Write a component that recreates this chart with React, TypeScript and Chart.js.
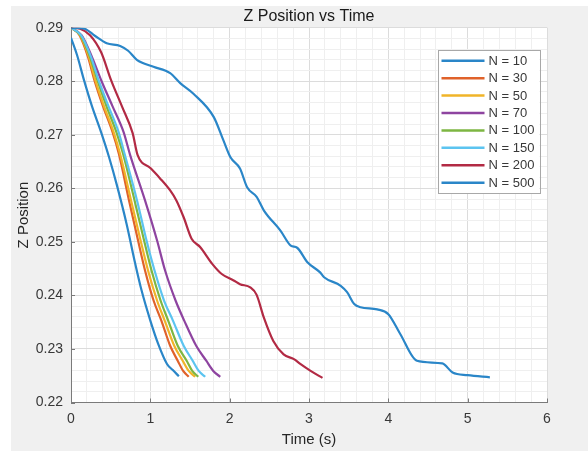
import React, { useEffect, useRef } from 'react';
import { Chart, registerables } from 'chart.js';

Chart.register(...registerables);

// ---------- data ----------
const seriesLabels = ['N = 10', 'N = 30', 'N = 50', 'N = 70', 'N = 100', 'N = 150', 'N = 200', 'N = 500'];
const seriesColors = ['#2a86c8', '#e0622a', '#f0b429', '#8e44a0', '#7db642', '#5cc4f0', '#b22a44', '#2a86c8'];

const tN10 = [0, 0.076, 0.164, 0.265, 0.379, 0.48, 0.58, 0.70, 0.81, 0.89, 1.00, 1.10, 1.21, 1.28, 1.36];
const zN10 = [0.2881, 0.2849, 0.2802, 0.2753, 0.2705, 0.2658, 0.2605, 0.2534, 0.2459, 0.2409, 0.2353, 0.2309, 0.2272, 0.2261, 0.2249];

const tN30 = [0, 0.107, 0.215, 0.297, 0.404, 0.524, 0.604, 0.732, 0.846, 0.934, 1.042, 1.139, 1.25, 1.345, 1.414, 1.484];
const zN30 = [0.29, 0.2886, 0.2845, 0.2801, 0.2753, 0.2705, 0.2664, 0.2577, 0.2502, 0.2446, 0.239, 0.2353, 0.2306, 0.2278, 0.2259, 0.2248];

const tN50 = [0, 0.114, 0.227, 0.309, 0.417, 0.537, 0.619, 0.758, 0.878, 0.972, 1.086, 1.181, 1.301, 1.408, 1.484, 1.566];
const zN50 = [0.29, 0.2886, 0.2845, 0.2801, 0.2753, 0.2705, 0.2664, 0.2577, 0.2502, 0.2446, 0.239, 0.2353, 0.2306, 0.2278, 0.2259, 0.2248];

const tN70 = [0, 0.133, 0.265, 0.383, 0.524, 0.663, 0.742, 0.934, 1.086, 1.187, 1.319, 1.427, 1.578, 1.705, 1.793, 1.881];
const zN70 = [0.29, 0.2886, 0.2845, 0.2801, 0.2753, 0.2705, 0.2664, 0.2577, 0.2502, 0.2446, 0.239, 0.2353, 0.2306, 0.2278, 0.2259, 0.2248];

const tN100 = [0, 0.12, 0.24, 0.335, 0.448, 0.572, 0.657, 0.802, 0.922, 1.016, 1.13, 1.225, 1.345, 1.458, 1.528, 1.604];
const zN100 = [0.29, 0.2886, 0.2845, 0.2801, 0.2753, 0.2705, 0.2664, 0.2577, 0.2502, 0.2446, 0.239, 0.2353, 0.2306, 0.2278, 0.2259, 0.2248];

const tN150 = [0, 0.126, 0.253, 0.35, 0.473, 0.6, 0.676, 0.833, 0.953, 1.054, 1.174, 1.285, 1.42, 1.534, 1.61, 1.692];
const zN150 = [0.29, 0.2886, 0.2845, 0.2801, 0.2753, 0.2705, 0.2664, 0.2577, 0.2502, 0.2446, 0.239, 0.2353, 0.2306, 0.2278, 0.2259, 0.2248];

const tN200 = [0, 0.114, 0.24, 0.38, 0.505, 0.645, 0.777, 0.84, 1.0, 1.12, 1.25, 1.33, 1.42, 1.52, 1.63, 1.78, 1.9, 2.05, 2.13, 2.26, 2.34, 2.43, 2.55, 2.68, 2.81, 2.89, 3.02, 3.17];
const zN200 = [0.29, 0.2898, 0.2886, 0.2854, 0.2802, 0.2752, 0.2703, 0.2662, 0.2638, 0.2619, 0.2596, 0.2577, 0.2546, 0.2506, 0.249, 0.2459, 0.244, 0.2428, 0.2421, 0.2415, 0.2401, 0.2359, 0.2315, 0.229, 0.2281, 0.2272, 0.2259, 0.2246];

const tN500 = [0, 0.17, 0.3, 0.45, 0.62, 0.72, 0.83, 1.04, 1.25, 1.38, 1.54, 1.8, 1.92, 2.01, 2.13, 2.22, 2.34, 2.43, 2.64, 2.77, 2.85, 2.98, 3.14, 3.19, 3.4, 3.48, 3.57, 3.65, 3.86, 4.0, 4.15, 4.36, 4.68, 4.81, 5.0, 5.28];
const zN500 = [0.29, 0.2898, 0.2885, 0.2871, 0.2866, 0.2857, 0.284, 0.2827, 0.2815, 0.2796, 0.2777, 0.2733, 0.269, 0.2658, 0.2637, 0.2602, 0.2584, 0.2559, 0.2521, 0.2493, 0.2489, 0.2462, 0.2443, 0.2434, 0.2418, 0.2406, 0.2384, 0.2378, 0.2374, 0.2365, 0.2328, 0.2278, 0.2273, 0.2256, 0.2251, 0.2247];

const seriesTimes = [tN10, tN30, tN50, tN70, tN100, tN150, tN200, tN500];
const seriesZ = [zN10, zN30, zN50, zN70, zN100, zN150, zN200, zN500];

const xMajorTicks = [0, 1, 2, 3, 4, 5, 6];
const xTickLabels = ['0', '1', '2', '3', '4', '5', '6'];
const yMajorTicks = [0.22, 0.23, 0.24, 0.25, 0.26, 0.27, 0.28, 0.29];
const yTickLabels = ['0.22', '0.23', '0.24', '0.25', '0.26', '0.27', '0.28', '0.29'];

const titleText = 'Z Position vs Time';
const xTitle = 'Time (s)';
const yTitle = 'Z Position';

// ---------- styles ----------
const FONT = '"Liberation Sans", Arial, Helvetica, sans-serif';
const AXIS_COLOR = '#7a7a7a';
const MAJOR_GRID = '#dcdcdc';
const MINOR_GRID = '#efefef';
const TEXT_COLOR = '#383838';

const findMajor = (arr: number[], v: number) => arr.findIndex((m) => Math.abs(m - v) < 1e-7);

const bgPlugin = {
  id: 'bgPlugin',
  beforeDraw(chart: any) {
    const { ctx, chartArea, width, height } = chart;
    ctx.save();
    ctx.fillStyle = '#ffffff';
    ctx.fillRect(0, 0, width, height);
    ctx.fillStyle = '#f0f0f0';
    ctx.fillRect(11, 6, width - 11, height - 6);
    ctx.fillStyle = '#ffffff';
    ctx.fillRect(chartArea.left, chartArea.top, chartArea.right - chartArea.left, chartArea.bottom - chartArea.top);
    ctx.restore();
  },
};

const innerTickPlugin = {
  id: 'innerTicks',
  beforeDatasetsDraw(chart: any) {
    const { ctx, chartArea, scales } = chart;
    ctx.save();
    ctx.strokeStyle = AXIS_COLOR;
    ctx.lineWidth = 1;
    ctx.beginPath();
    xMajorTicks.forEach((v) => {
      const px = Math.round(scales.x.getPixelForValue(v)) + 0.5;
      ctx.moveTo(px, chartArea.bottom);
      ctx.lineTo(px, chartArea.bottom - 4);
    });
    yMajorTicks.forEach((v) => {
      const py = Math.round(scales.y.getPixelForValue(v)) + 0.5;
      ctx.moveTo(chartArea.left, py);
      ctx.lineTo(chartArea.left + 4, py);
    });
    ctx.stroke();
    ctx.restore();
  },
};

const boxLegendPlugin = {
  id: 'boxLegend',
  afterDatasetsDraw(chart: any) {
    const { ctx, chartArea } = chart;
    const right = chartArea.right - 7.5;
    const top = chartArea.top + 22.5;
    const w = 102;
    const h = 143;
    const left = right - w;
    ctx.save();
    ctx.fillStyle = '#ffffff';
    ctx.fillRect(left, top, w, h);
    ctx.strokeStyle = '#a8a8a8';
    ctx.lineWidth = 1;
    ctx.strokeRect(Math.round(left) + 0.5, Math.round(top) + 0.5, w, h);
    chart.data.datasets.forEach((ds: any, i: number) => {
      const y = top + 10.5 + i * 17.43;
      ctx.strokeStyle = ds.borderColor;
      ctx.lineWidth = 2.5;
      ctx.beginPath();
      ctx.moveTo(left + 4, y);
      ctx.lineTo(left + 47, y);
      ctx.stroke();
      ctx.fillStyle = TEXT_COLOR;
      ctx.font = `13px ${FONT}`;
      ctx.textAlign = 'left';
      ctx.textBaseline = 'middle';
      ctx.fillText(ds.label, left + 51, y + 0.5);
    });
    ctx.restore();
  },
};

export default function App() {
  const canvasRef = useRef<HTMLCanvasElement | null>(null);

  useEffect(() => {
    const canvas = canvasRef.current;
    if (!canvas) return;
    Chart.defaults.font.family = FONT;

    const datasets = seriesLabels.map((label, i) => ({
      label,
      data: seriesTimes[i].map((t, j) => ({ x: t, y: seriesZ[i][j] })),
      borderColor: seriesColors[i],
      backgroundColor: seriesColors[i],
      borderWidth: 2.2,
      pointRadius: 0,
      fill: false,
      cubicInterpolationMode: 'monotone',
      order: -i,
    }));

    const chart = new Chart(canvas, {
      type: 'line',
      data: { datasets },
      options: {
        responsive: false,
        animation: false,
        devicePixelRatio: 1,
        layout: { padding: { left: 0, right: 41, top: 0, bottom: 0 } },
        plugins: {
          legend: { display: false },
          tooltip: { enabled: false },
          title: {
            display: true,
            text: titleText,
            fullSize: false,
            color: '#1a1a1a',
            font: { size: 16, weight: 'normal', family: FONT },
            padding: { top: 6.5, bottom: 2 },
          },
        },
        scales: {
          x: {
            type: 'linear',
            position: 'bottom',
            min: 0,
            max: 6,
            afterFit: (s: any) => {
              s.height = 48.5;
            },
            ticks: {
              stepSize: 0.2,
              autoSkip: false,
              maxRotation: 0,
              minRotation: 0,
              padding: 8,
              color: TEXT_COLOR,
              font: { size: 14, family: FONT },
              callback: (value: any) => {
                const k = findMajor(xMajorTicks, Number(value));
                return k >= 0 ? xTickLabels[k] : '';
              },
            },
            grid: {
              drawTicks: false,
              lineWidth: 1,
              color: (ctx: any) =>
                ctx.tick && findMajor(xMajorTicks, ctx.tick.value) >= 0 ? MAJOR_GRID : MINOR_GRID,
            },
            border: { display: true, color: AXIS_COLOR, width: 1 },
            title: {
              display: true,
              text: xTitle,
              color: '#262626',
              font: { size: 15, family: FONT },
              padding: { top: 0, bottom: 2 },
            },
          },
          y: {
            type: 'linear',
            min: 0.22,
            max: 0.29,
            afterFit: (s: any) => {
              s.width = 71;
            },
            ticks: {
              stepSize: 0.002,
              autoSkip: false,
              padding: 8,
              color: TEXT_COLOR,
              font: { size: 14, family: FONT },
              callback: (value: any) => {
                const k = findMajor(yMajorTicks, Number(value));
                return k >= 0 ? yTickLabels[k] : '';
              },
            },
            grid: {
              drawTicks: false,
              lineWidth: 1,
              color: (ctx: any) =>
                ctx.tick && findMajor(yMajorTicks, ctx.tick.value) >= 0 ? MAJOR_GRID : MINOR_GRID,
            },
            border: { display: true, color: AXIS_COLOR, width: 1 },
            title: {
              display: true,
              text: yTitle,
              color: '#262626',
              font: { size: 15, family: FONT },
              padding: { top: 15, bottom: 0 },
            },
          },
        },
      },
      plugins: [bgPlugin, innerTickPlugin, boxLegendPlugin],
    } as any);

    return () => {
      chart.destroy();
    };
  }, []);

  return (
    <div style={{ position: 'absolute', left: 0, top: 0, width: 588, height: 451 }}>
      <canvas ref={canvasRef} width={588} height={451} style={{ display: 'block', width: 588, height: 451 }} />
    </div>
  );
}
